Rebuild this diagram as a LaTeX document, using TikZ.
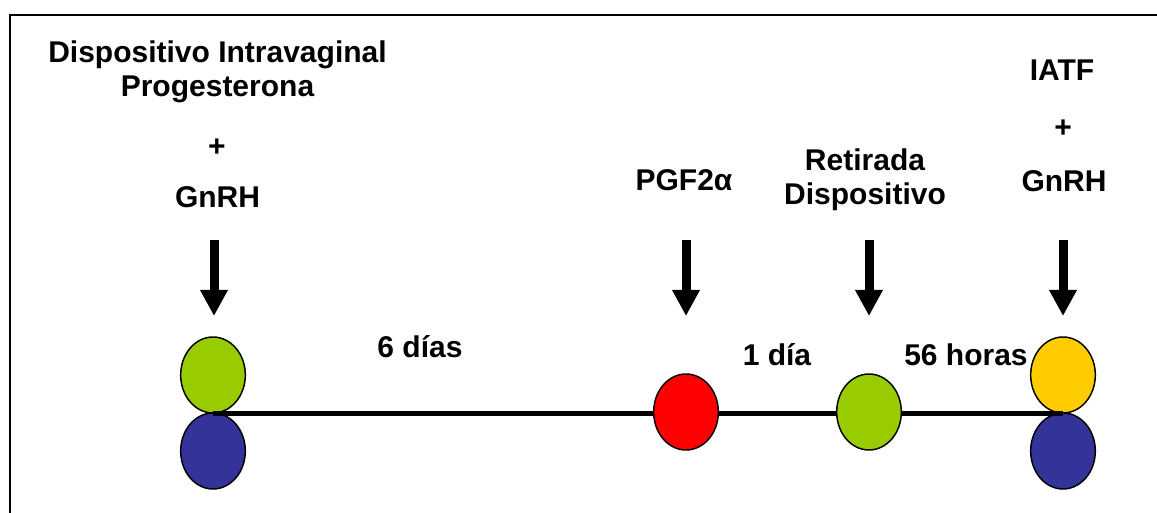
\documentclass[tikz,border=0pt]{standalone}
\usepackage{fontspec}
\setmainfont{Liberation Sans}
\usetikzlibrary{shapes.geometric,arrows.meta}
\definecolor{leafgreen}{HTML}{99CC00}
\definecolor{signalred}{HTML}{FF0000}
\definecolor{deepblue}{HTML}{333399}
\definecolor{gold}{HTML}{FFCC00}
\begin{document}
\begin{tikzpicture}[x=0.75pt,y=-0.75pt,
  lbl/.style={font=\bfseries\fontsize{22.5}{25.5}\selectfont, inner sep=0pt, anchor=base},
  dot/.style={ellipse, draw=black, line width=1.1pt, minimum width=48.5pt, minimum height=57pt, inner sep=0pt},
  pointer/.style={line width=6.75pt, -{Triangle[width=19.5pt,length=19.5pt]}},
  frame/.style={line width=1.9pt},
  axis/.style={line width=3.9pt}]
\useasboundingbox (0,0) rectangle (1157,513);

% outer frame (top and left edges)
\draw[frame] (10,513) -- (10,15) -- (1157,15);

% labels above the time line
\node[lbl] (lt1) at (217.5,63) {Dispositivo Intravaginal};
\node[lbl] (lt2) at (217.5,97) {Progesterona};
\node[lbl] (lplus) at (217,157) {+};
\node[lbl] (lgn) at (217.5,207.5) {GnRH};
\node[lbl] (pgf) at (684,191) {PGF2α};
\node[lbl] (ret1) at (865,171) {Retirada};
\node[lbl] (ret2) at (865,205) {Dispositivo};
\node[lbl] (iatf) at (1062,81) {IATF};
\node[lbl] (rplus) at (1063,138) {+};
\node[lbl] (rgn) at (1064,191.5) {GnRH};

% interval labels
\node[lbl] (d6) at (420,358) {6 días};
\node[lbl] (d1) at (777,366) {1 día};
\node[lbl] (h56) at (966,366) {56 horas};

% downward pointers
\coordinate (a1top) at (214,240); \coordinate (a1tip) at (214,316);
\coordinate (a2top) at (686,240); \coordinate (a2tip) at (686,316);
\coordinate (a3top) at (869,240); \coordinate (a3tip) at (869,316);
\coordinate (a4top) at (1063,240); \coordinate (a4tip) at (1063,316);
\draw[pointer] (a1top) -- (a1tip);
\draw[pointer] (a2top) -- (a2tip);
\draw[pointer] (a3top) -- (a3tip);
\draw[pointer] (a4top) -- (a4tip);

% start and end markers
\node[dot, fill=leafgreen] (g1) at (213,375) {};
\node[dot, fill=deepblue] (b1) at (213,451) {};
\node[dot, fill=gold] (y4) at (1063,375) {};
\node[dot, fill=deepblue] (b4) at (1063,451) {};

% time line
\draw[axis] (g1.south) -- (y4.south);

% intermediate markers sit on top of the line
\node[dot, fill=signalred] (r2) at (686,412) {};
\node[dot, fill=leafgreen] (g3) at (869,412) {};
\end{tikzpicture}
\end{document}
